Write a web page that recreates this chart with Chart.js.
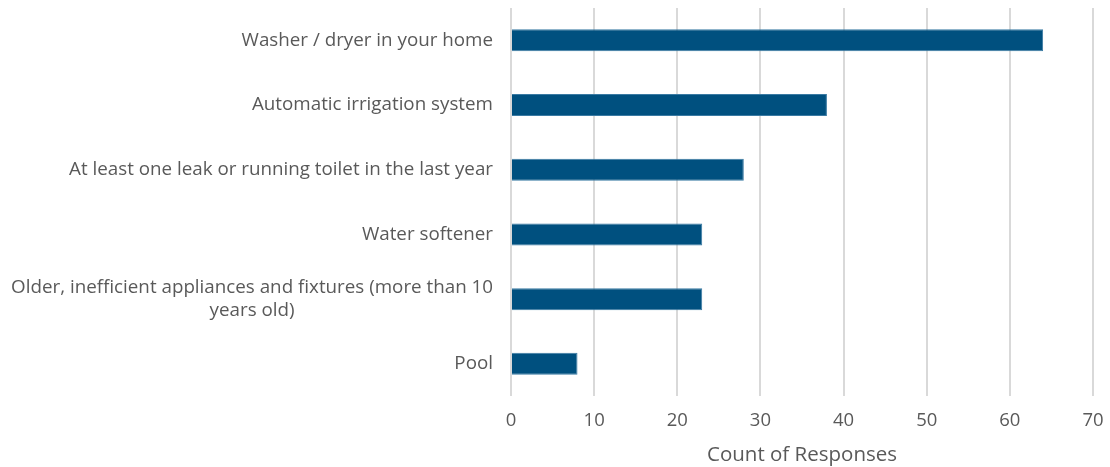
<!DOCTYPE html>
<html>
<head>
<meta charset="utf-8">
<script src="https://cdn.jsdelivr.net/npm/chart.js@4.4.1/dist/chart.umd.min.js"></script>
<style>
  html, body { margin: 0; padding: 0; background: #ffffff; }
  #wrap { width: 1110px; height: 467px; position: relative; }
</style>
</head>
<body>
<div id="wrap"><canvas id="chart"></canvas></div>
<script>
const categories = [
  'Washer / dryer in your home',
  'Automatic irrigation system',
  'At least one leak or running toilet in the last year',
  'Water softener',
  ['Older, inefficient appliances and fixtures (more than 10', 'years old)'],
  'Pool'
];
const counts = [64, 38, 28, 23, 23, 8];
const xTicks = [0, 10, 20, 30, 40, 50, 60, 70];

const textColor = '#595959';
const fontFamily = "'Open Sans', sans-serif";

// draws the category labels: right aligned block, extra lines centred under the first
const labelPlugin = {
  id: 'catLabels',
  afterDraw(chart) {
    const ctx = chart.ctx;
    const yScale = chart.scales.y;
    const right = chart.chartArea.left - 18;
    ctx.save();
    ctx.font = '18.8px ' + fontFamily;
    ctx.fillStyle = textColor;
    ctx.textBaseline = 'middle';
    const lineH = 23;
    categories.forEach((lab, i) => {
      const lines = Array.isArray(lab) ? lab : [lab];
      const y = yScale.getPixelForTick(i);
      const widest = Math.max(...lines.map(l => ctx.measureText(l).width));
      const cx = right - widest / 2;
      const y0 = y - (lines.length - 1) * lineH / 2;
      lines.forEach((l, k) => {
        ctx.textAlign = 'center';
        ctx.fillText(l, cx, y0 + k * lineH);
      });
    });
    ctx.restore();
  }
};

new Chart(document.getElementById('chart'), {
  type: 'bar',
  data: {
    labels: categories,
    datasets: [{
      data: counts,
      backgroundColor: '#00507f',
      borderColor: '#3a7aa3',
      borderWidth: 1,
      barPercentage: 0.68,
      categoryPercentage: 0.5
    }]
  },
  options: {
    indexAxis: 'y',
    responsive: true,
    maintainAspectRatio: false,
    animation: false,
    layout: { padding: { top: 8, right: 2, bottom: 0, left: 0 } },
    plugins: {
      legend: { display: false },
      tooltip: { enabled: false }
    },
    scales: {
      x: {
        min: 0,
        max: 70,
        afterBuildTicks(scale) { scale.ticks = xTicks.map(v => ({ value: v })); },
        afterFit(scale) { scale.paddingRight = 17; },
        grid: { color: '#d9d9d9', lineWidth: 2, drawTicks: false },
        border: { display: false },
        ticks: {
          color: textColor,
          padding: 13,
          font: { family: fontFamily, size: 18.5 }
        },
        title: {
          display: true,
          text: 'Count of Responses',
          color: textColor,
          padding: { top: -2, bottom: 0 },
          font: { family: fontFamily, size: 20.5 }
        }
      },
      y: {
        grid: { display: false },
        border: { display: false },
        ticks: { display: false },
        afterFit(scale) { scale.width = 511; }
      }
    }
  },
  plugins: [labelPlugin]
});
</script>
</body>
</html>
